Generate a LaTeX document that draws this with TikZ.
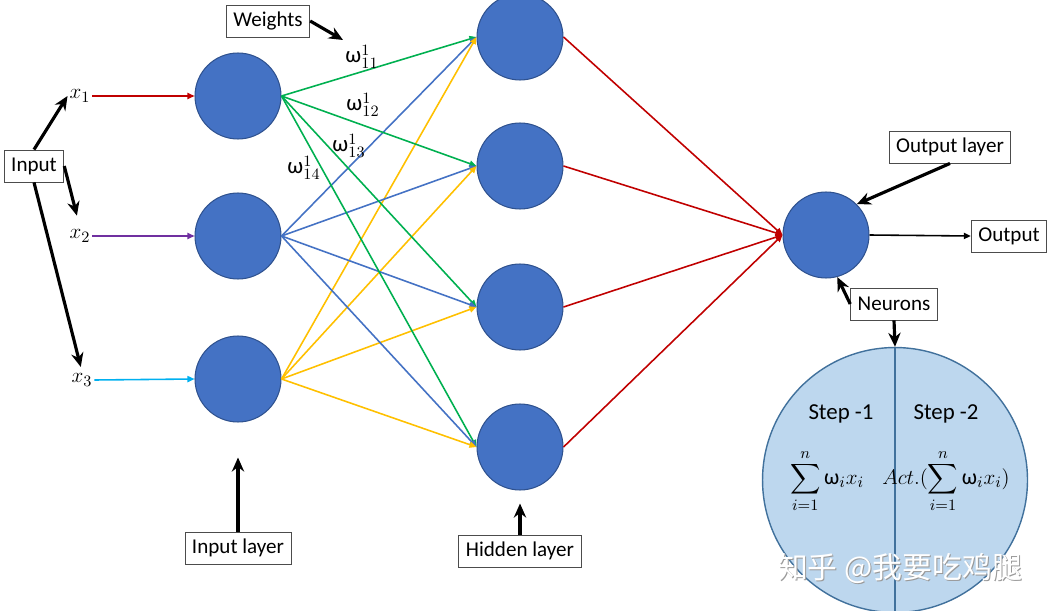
\documentclass[tikz,border=0pt]{standalone}
\usepackage{amsmath}
\usepackage{fontspec}
\setmainfont{Carlito}
\newfontfamily\cjk{Noto Sans CJK SC}
\usetikzlibrary{arrows.meta}
\definecolor{neuron}{RGB}{68,114,196}
\definecolor{neuronb}{RGB}{47,82,143}
\definecolor{cellfill}{RGB}{189,215,238}
\definecolor{cellb}{RGB}{65,113,156}
\definecolor{wgreen}{RGB}{0,176,80}
\definecolor{wblue}{RGB}{68,114,196}
\definecolor{wyellow}{RGB}{255,192,0}
\definecolor{wred}{RGB}{192,0,0}
\definecolor{xpurple}{RGB}{112,48,160}
\definecolor{xcyan}{RGB}{0,176,240}
\newcommand{\om}{\text{ω}}

\begin{document}
\begin{tikzpicture}[x=0.02cm,y=-0.02cm,
  neuron/.style={circle,fill=neuron,draw=neuronb,line width=0.6pt,minimum size=1.72cm,inner sep=0pt},
  tag/.style={draw=black!70,fill=white,line width=0.5pt,font=\fontsize{12}{14}\selectfont,inner xsep=4pt,minimum height=0.64cm},
  link/.style={line width=0.9pt,-{Triangle[length=4pt,width=3.5pt]}},
  pointer/.style={line width=1.8pt,-{Stealth[length=8pt,width=7pt]}},
  mathlab/.style={font=\fontsize{13}{15}\selectfont,inner sep=1pt},
  formula/.style={font=\fontsize{12.5}{15}\selectfont,inner sep=1pt}]
\useasboundingbox (0,0) rectangle (1057,611);
% layers
\foreach \i/\y in {1/96,2/236,3/379} {\node[neuron] (in\i) at (238,\y) {};}
\foreach \i/\y in {1/37,2/166,3/307,4/447} {\node[neuron] (hid\i) at (520,\y) {};}
\node[neuron] (out) at (826,235) {};
% inputs
\node[mathlab] (x1) at (80,96) {$x_1$};
\node[mathlab] (x2) at (80,236) {$x_2$};
\node[mathlab] (x3) at (82,380) {$x_3$};
\draw[link,wred] (x1.east)--(in1.west);
\draw[link,xpurple] (x2.east)--(in2.west);
\draw[link,xcyan] (x3.east)--(in3.west);
% weights
\foreach \h in {1,...,4} {
  \draw[link,wgreen] (in1.east)--(hid\h.west);
  \draw[link,wblue] (in2.east)--(hid\h.west);
  \draw[link,wyellow] (in3.east)--(hid\h.west);
  \draw[link,wred] (hid\h.east)--(out.west);
}
\node[mathlab] (w11) at (362,57) {$\om^1_{11}$};
\node[mathlab] (w12) at (363,105) {$\om^1_{12}$};
\node[mathlab] (w13) at (349,146) {$\om^1_{13}$};
\node[mathlab] (w14) at (304,168) {$\om^1_{14}$};
% labels
\node[tag] (inp) at (34,166) {Input};
\draw[pointer] (inp.north)--(x1.west);
\draw[pointer,shorten >=0.25cm] (inp.east)--(x2.north);
\draw[pointer,shorten >=0.1cm] (inp.south)--(x3.north);
\node[tag] (wts) at (268,21) {Weights};
\coordinate (wtip) at (343,40);
\draw[pointer] (wts.east)--(wtip);
\node[tag] (ilay) at (238,548) {Input layer};
\draw[pointer,shorten >=0.7cm] (ilay.north)--(in3.south);
\node[tag] (hlay) at (520,551) {Hidden layer};
\draw[pointer,shorten >=0.26cm] (hlay.north)--(hid4.south);
\node[tag] (olay) at (950,147) {Output layer};
\draw[pointer] (olay.south)--(out.north east);
\node[tag] (res) at (1009,236) {Output};
\draw[link,black] (out.east)--(res.west);
\node[tag] (neu) at (894,304) {Neurons};
\draw[pointer] (neu.west)--(out.-75);
% inside one neuron
\node[circle,fill=cellfill,draw=cellb,line width=0.8pt,minimum size=5.3cm] (cell) at (895,480) {};
\draw[cellb,line width=0.8pt] (cell.north)--(cell.south);
\draw[pointer] (neu.south)--(cell.north);
\node[mathlab] (s1) at (841,414) {Step -1};
\node[mathlab] (s2) at (946,414) {Step -2};
\node[formula] (f1) at (827,481) {$\displaystyle\sum_{i=1}^{n}\om_i x_i$};
\node[formula] (f2) at (946,481) {$\displaystyle Act.(\sum_{i=1}^{n}\om_i x_i)$};
\node[font=\cjk\fontsize{17}{19}\selectfont,text=black!40] (wmshade) at (901,569) {知乎 @我要吃鸡腿};
\node[font=\cjk\fontsize{17}{19}\selectfont,text=white] (wm) at (900,568) {知乎 @我要吃鸡腿};
\end{tikzpicture}
\end{document}
